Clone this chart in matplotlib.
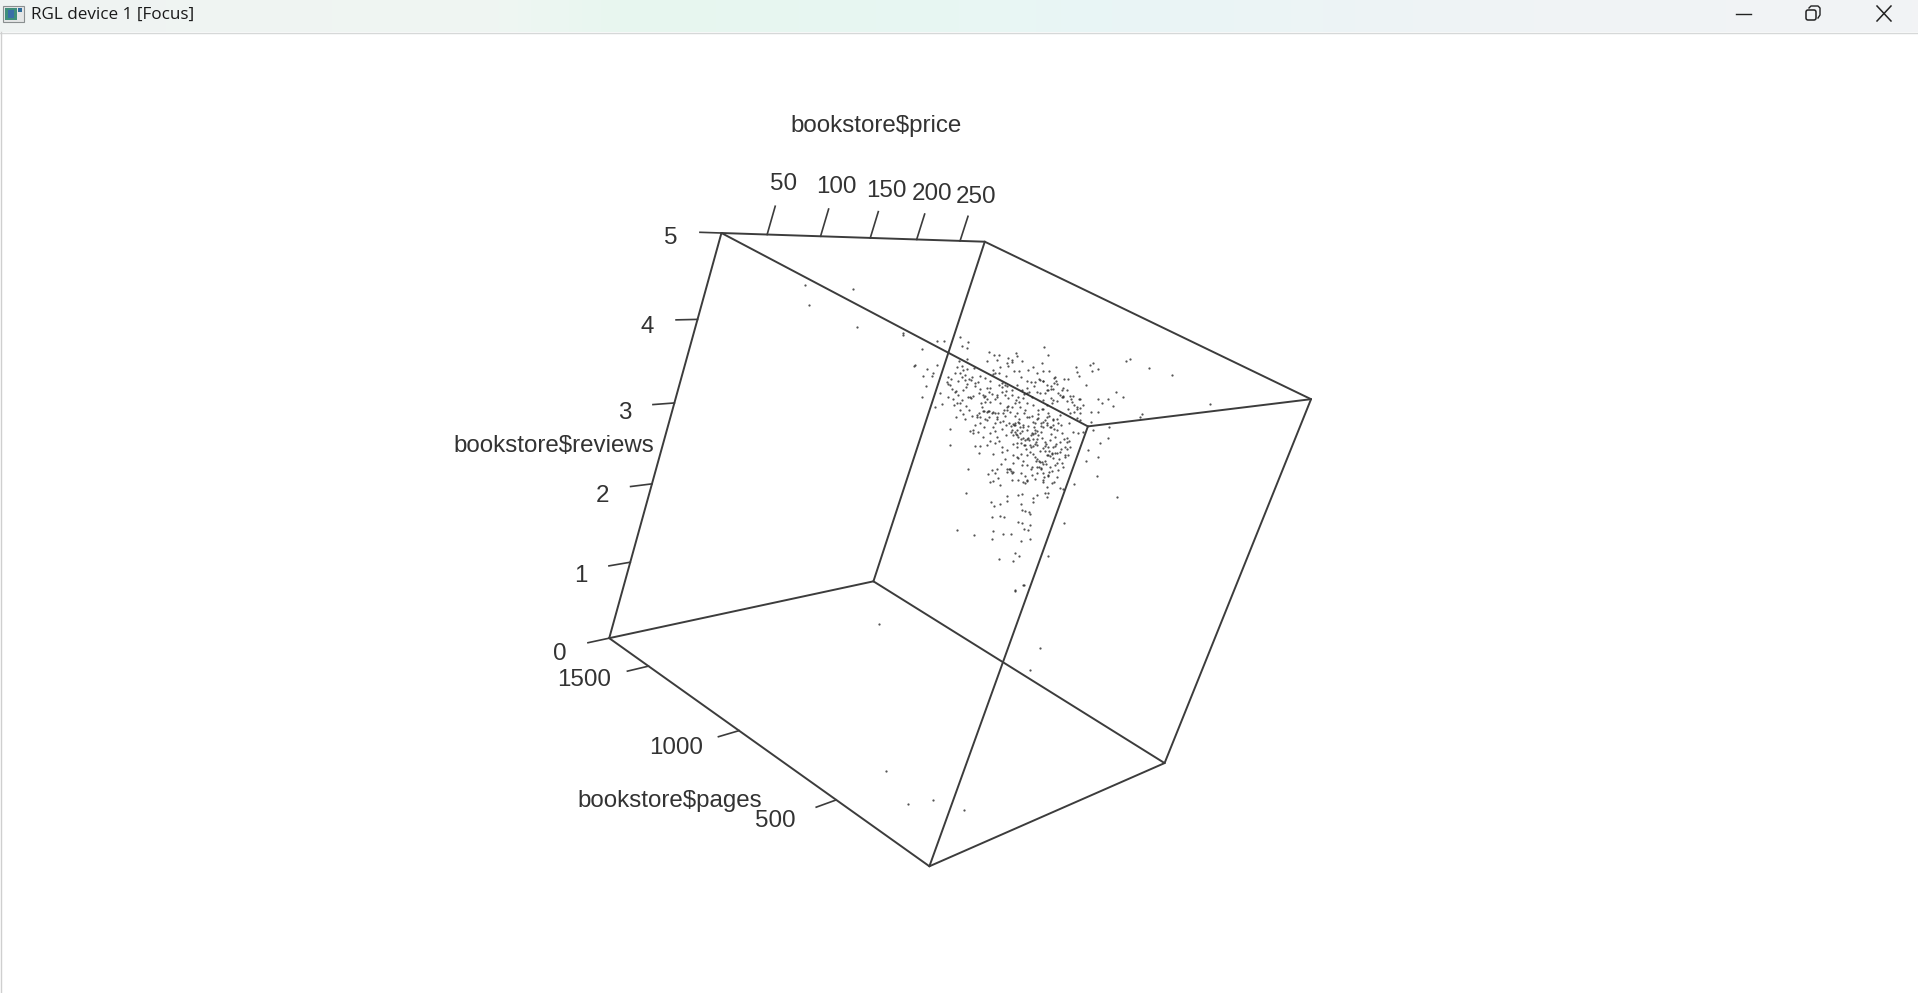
import numpy as np
import matplotlib
matplotlib.use("Agg")
import matplotlib.pyplot as plt
from matplotlib.patches import Rectangle, FancyBboxPatch

# ---- axis values of the 3D box ----
price_range = [10.0, 280.0]
reviews_range = [0.0, 5.0]
pages_range = [53.0, 1728.0]
price_ticks = [50, 100, 150, 200, 250]
reviews_ticks = [0, 1, 2, 3, 4, 5]
pages_ticks = [500, 1000, 1500]

price_title = "bookstore$price"
reviews_title = "bookstore$reviews"
pages_title = "bookstore$pages"
window_title = "RGL device 1 [Focus]"

# A single projected view gives no depth for each book, so the cloud is kept as
# the projected positions (crop pixels of the dense region).
cloud_x = [68,170,193,125,240,264,245,260,101,172,140,128,160,155,138,127,165,185,180,210,210,265,258,230,282,336,340,369,392,423,450,405,418,356,399,505,552,710,650,581,617,654,624,660,684,686,640,633,634,655,655,683,665,700,708,728,640,630,655,635,737,750,808,875,989,780,785,431,406,491,503,617,587,590,596,553,563,521,507,487,445,460,
327,343,357,350,322,383,407,412,397,380,395,425,383,340,360,345,357,378,403,418,470,490,422,452,465,480,490,440,525,522,530,512,505,495,545,550,540,548,570,578,562,575,596,600,590,608,600,565,540,582,570,600,590,512,520,490,470,480,500,455,440,425,410,395,375,380,300,283,260,236,245,225,250,262,205,235,255,275,295,315,330,340,365,330,320,300,285,258,250,228,233,265,270,278,272,245,240,222,240,228,255,275,290,298,310,325,340,355,330,315,350,365,375,385,345,360,380,395,415,430,440,460,405,420,435,410,390,375,360,345,320,300,280,270,278,295,310,330,350,345,320,300,285,296,340,365,365,380,378,395,405,415,430,440,420,405,400,415,430,445,455,465,475,465,475,490,500,505,520,530,510,525,545,560,580,610,595,485,495,510,520,540,570,435,450,470,490,515,505,465,460,480,495,520,540,555,565,400,415,440,425,400,390,395,380,440,430,455,470,490,510,525,545,535,505,530,490,500,515,540,550,335,345,325,355,330,340,360,395,415,415,425,460,470,495,505,500,380,380,332,342,360,422,425,435,448,450,460,336,360,372,415,425,432,445,450,200,210,225,
402,408,418,426,436,444,452,462,472,482,398,410,424,438,450,468,480,496,512,528,404,416,432,448,458,474,488,502,518,534,412,428,442,456,470,484,498,516,532,548,422,436,452,466,478,492,506,522,536,554,372,384,392,366,352,338,328,312,306,290,
258,268,286,248,216,204,232,218,302,312]
cloud_y = [76,93,92,117,80,97,108,113,167,165,178,198,190,198,229,262,290,283,250,358,405,478,550,659,674,686,664,673,671,692,686,728,737,748,753,739,640,560,499,523,453,440,419,400,383,352,360,335,307,306,267,268,280,287,246,260,158,165,178,182,152,147,173,194,283,320,313,824,842,112,135,224,172,185,198,208,208,203,184,160,180,170,
127,135,135,150,153,143,128,138,150,158,155,152,168,180,172,190,190,198,182,182,190,182,202,215,215,210,213,212,200,220,222,228,240,250,240,235,255,258,258,258,272,275,268,268,290,285,295,298,315,305,310,330,325,265,270,270,245,250,240,260,235,240,225,240,225,228,198,175,148,152,168,190,180,178,200,212,210,200,215,205,212,192,218,235,235,238,228,230,240,242,255,262,262,258,265,270,280,285,300,322,328,318,315,308,302,302,305,308,275,275,255,245,255,265,268,280,290,255,262,265,280,285,280,290,300,310,305,318,335,340,330,340,360,362,368,365,380,368,380,400,405,408,408,428,432,410,425,420,375,360,340,335,350,360,370,365,375,380,385,385,370,360,375,340,325,335,320,310,345,360,350,380,370,385,365,365,370,385,395,390,410,395,410,405,405,405,415,430,435,440,432,455,452,445,425,435,435,435,445,465,465,460,478,490,487,510,515,495,490,490,470,465,460,480,495,500,515,530,520,535,537,480,490,492,503,515,512,525,510,510,555,552,565,555,550,548,560,558,572,577,588,582,582,600,603,605,612,575,622,618,622,636,640,658,660,645,215,225,245,
345,372,340,362,390,348,376,352,388,366,402,412,398,418,426,396,422,408,372,402,318,326,308,322,336,312,298,344,328,338,440,452,436,470,448,476,462,482,458,472,488,498,478,506,470,502,486,516,448,410,300,288,348,356,322,352,320,350,290,320,
288,300,346,312,238,262,278,268,280,262]

# Second pass over the same crop: clumps the first reading merged together
cloud2_x = [312,320,328,336,346,316,300,352,370,378,
            388,398,406,412,392,410,420,430,424,440,
            448,458,466,472,460,482,490,500,514,522,
            508,516,510,526,486,490,478,470,552,560,
            388,394,382,400,442,436,432,458,464,452,
            498,504,494,500,524,542,530,556,562,566,
            442,456,470,482,494,506,518,530,544,568,
            474,486,502,516,530,546,442,432,408,418,
            356,366,378,350,336,326,316,286,272,262,
            240,254,268,214,204,232,246,296,310,322,
            490,476,462,448,500,514,528,396,380,370,
            346,356,330,424,412,468,482,376,364,352,
            582,592,574,560,600,520,534,548,504,490]
cloud2_y = [304,306,304,308,310,326,322,326,332,346,
            338,342,346,360,366,376,350,346,388,388,
            390,386,368,362,372,348,352,340,350,356,
            424,432,438,430,455,462,452,470,388,395,
            476,482,478,486,512,518,404,408,402,412,
            402,412,422,436,408,418,430,440,416,392,
            322,318,326,338,330,318,330,326,344,340,
            300,296,286,278,274,262,248,252,270,276,
            226,232,244,260,252,246,258,218,210,222,
            188,194,206,208,222,172,200,248,256,268,
            212,208,228,246,226,236,214,292,300,310,
            362,394,392,432,398,454,474,448,462,476,
            286,296,268,240,308,236,248,262,498,510]

# Stray points away from the dense region (window pixels)
far_x = [805,809,853,857,903,915,879,886,908,933,964,1030,1040,1015,1023]
far_y = [285,305,289,327,333,365,624,771,804,800,810,670,648,590,585]

# ---- camera calibration: where the box corners appear in the window ----
S = 1918 / 1568
corner_idx = {  # (price, reviews, pages) as 0 = low, 1 = high
    "A": (0, 1, 1), "B": (1, 1, 1), "C": (1, 1, 0), "D": (0, 1, 0),
    "E": (0, 0, 1), "F": (1, 0, 1), "G": (1, 0, 0), "H": (0, 0, 0)}
corner_px = {"A": (590, 190), "B": (805, 198), "C": (1072, 326), "D": (889, 349),
             "E": (498, 522), "F": (714, 475), "G": (952, 624), "H": (760, 708)}
edges = ["AB", "BC", "CD", "DA", "EF", "FG", "GH", "HE", "AE", "BF", "CG", "DH"]

rows = []
for k, (i, j, l) in corner_idx.items():
    u, v = corner_px[k][0] * S, corner_px[k][1] * S
    X = [i, j, l, 1]
    rows.append(X + [0, 0, 0, 0] + [-u * c for c in X])
    rows.append([0, 0, 0, 0] + X + [-v * c for c in X])
P = np.linalg.svd(np.array(rows, float))[2][-1].reshape(3, 4)


def project(price, reviews, pages):
    a = (price - price_range[0]) / (price_range[1] - price_range[0])
    b = (reviews - reviews_range[0]) / (reviews_range[1] - reviews_range[0])
    c = (pages - pages_range[0]) / (pages_range[1] - pages_range[0])
    h = P @ np.array([a, b, c, 1.0])
    return h[0] / h[2], h[1] / h[2]


INK = "#3c3c3c"
TXT = "#333333"
FS = 17.4
FONT = "Liberation Sans"

fig = plt.figure(figsize=(19.18, 9.93), dpi=100, facecolor="white")
ax = fig.add_axes([0, 0, 1, 1])
ax.set_xlim(0, 1918)
ax.set_ylim(993, 0)
ax.axis("off")

# window chrome
stop_pos = [0, .26, .33, .50, .58, .80, 1]
stops = np.array([[239, 243, 242], [239, 246, 243], [231, 246, 239], [232, 247, 243],
                  [233, 245, 246], [240, 243, 245], [242, 243, 245]]) / 255
grad = np.array([[np.interp(np.linspace(0, 1, 300), stop_pos, stops[:, c]) for c in range(3)]]).transpose(0, 2, 1)
ax.imshow(grad, extent=(0, 1918, 32, 0), aspect="auto", zorder=1)
ax.set_xlim(0, 1918)
ax.set_ylim(993, 0)
ax.plot([0, 1918], [32.5, 32.5], color="#d6d8d8", lw=1, zorder=2)
ax.plot([0.5, 0.5], [32, 993], color="#cfcfcf", lw=1, zorder=2)
ax.add_patch(Rectangle((3, 6), 21, 16, fc="#e4e6e6", ec="#8a8f90", lw=0.8, zorder=3))
ax.add_patch(Rectangle((5, 8), 12, 12, fc="#3f8f7c", ec="none", zorder=4))
ax.add_patch(Rectangle((8, 10), 6, 8, fc="#3a6fa8", ec="none", zorder=5))
ax.add_patch(Rectangle((18, 8), 4, 4, fc="#2f6d9a", ec="none", zorder=4))
ax.text(31, 15, window_title, fontsize=12.3, family="Open Sans", color="#1a1a1a", va="center", ha="left", zorder=5)
ax.plot([1736, 1751], [13.5, 13.5], color="#222222", lw=1, zorder=5)
ax.add_patch(FancyBboxPatch((1806, 10), 10, 10, boxstyle="round,pad=0,rounding_size=2", fc="none", ec="#222222", lw=1.1, zorder=5))
ax.plot([1809, 1811, 1818, 1820, 1820, 1818], [8, 6, 6, 8, 15, 18], color="#222222", lw=1, zorder=5)
ax.plot([1877, 1891], [6, 21], color="#222222", lw=1.1, zorder=5)
ax.plot([1877, 1891], [21, 6], color="#222222", lw=1.1, zorder=5)

# box
for e in edges:
    def w(k):
        i, j, l = corner_idx[k]
        return project(price_range[i], reviews_range[j], pages_range[l])
    p0, p1 = w(e[0]), w(e[1])
    ax.plot([p0[0], p1[0]], [p0[1], p1[1]], color=INK, lw=1.4, solid_capstyle="round", zorder=6)

# price axis on the top back edge
for t in price_ticks:
    p0 = project(t, 5, pages_range[1])
    p1 = project(t, 5.33, pages_range[1])
    ax.plot([p0[0], p1[0]], [p0[1], p1[1]], color=INK, lw=1.2, zorder=6)
    lab = project(t + 1.5, 5.59, pages_range[1])
    ax.text(lab[0], lab[1], str(t), fontsize=FS, family=FONT, color=TXT, ha="center", va="center", zorder=7)

# reviews axis
for t in reviews_ticks:
    p0 = project(price_range[0], t, pages_range[1])
    p1 = project(price_range[0] - 18, t, pages_range[1])
    ax.plot([p0[0], p1[0]], [p0[1], p1[1]], color=INK, lw=1.2, zorder=6)
    lab = project(price_range[0] - 40, t - 0.07, pages_range[1])
    ax.text(lab[0], lab[1], str(t), fontsize=FS, family=FONT, color=TXT, ha="center", va="center", zorder=7)

# pages axis
for t in pages_ticks:
    p0 = project(price_range[0], 0, t)
    p1 = project(price_range[0] - 18, 0, t)
    ax.plot([p0[0], p1[0]], [p0[1], p1[1]], color=INK, lw=1.2, zorder=6)
    lab = project(price_range[0] - 54, 0.02, t)
    ax.text(lab[0], lab[1], str(t), fontsize=FS, family=FONT, color=TXT, ha="center", va="center", zorder=7)

# axis titles
tp = project(122, 6.35, pages_range[1])
ax.text(tp[0], tp[1], price_title, fontsize=FS, family=FONT, color=TXT, ha="center", va="center", zorder=7)
tr = project(price_range[0] - 89, 2.6, pages_range[1])
ax.text(tr[0], tr[1], reviews_title, fontsize=FS, family=FONT, color=TXT, ha="center", va="center", zorder=7)
tg = project(price_range[0] - 96, 0, 760)
ax.text(tg[0], tg[1], pages_title, fontsize=FS, family=FONT, color=TXT, ha="center", va="center", zorder=7)

# points
px = np.concatenate([880 + np.array(cloud_x + cloud2_x) / 3, far_x])
py = np.concatenate([310 + np.array(cloud_y + cloud2_y) / 3, far_y])
ax.scatter(px, py, s=2.6, color="#2a2a2a", alpha=0.8, linewidths=0, zorder=8)

fig.savefig("out.png", dpi=100)
